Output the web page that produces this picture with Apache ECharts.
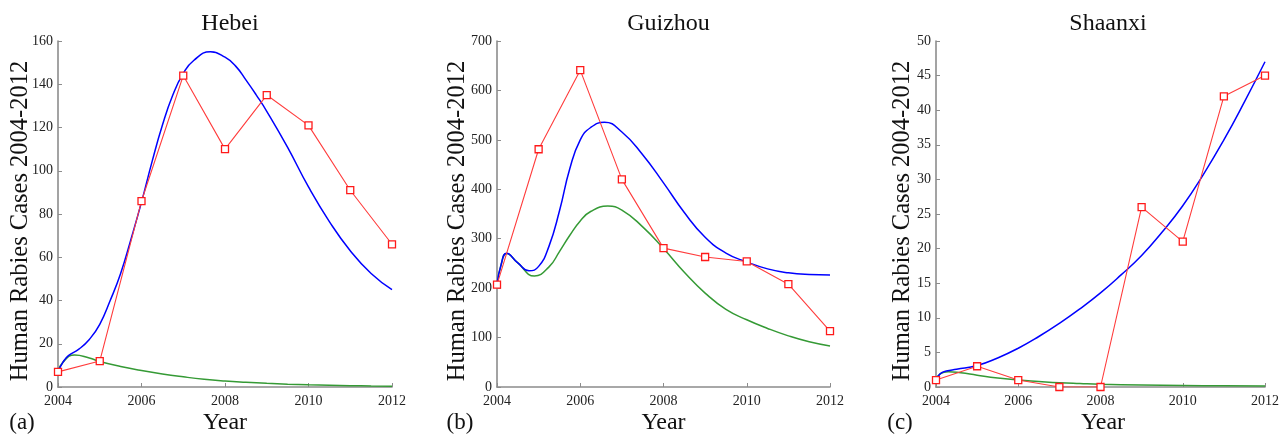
<!DOCTYPE html>
<html>
<head>
<meta charset="utf-8">
<title>Human rabies cases 2004-2012</title>
<script src="https://cdn.jsdelivr.net/npm/echarts@6/dist/echarts.min.js"></script>
<style>
  html, body { margin: 0; padding: 0; background: #ffffff; }
  #chart { width: 1282px; height: 434px; }
</style>
</head>
<body>
<div id="chart"></div>
<script>
// observed yearly cases (red squares)
const years = [2004, 2005, 2006, 2007, 2008, 2009, 2010, 2011, 2012]
const hebeiObs = [7, 12, 86, 144, 110, 135, 121, 91, 66]
const guizhouObs = [207, 481, 641, 420, 281, 263, 254, 208, 113]
const shaanxiObs = [1, 3, 1, 0, 0, 26, 21, 42, 45]

// model curves; sample times include each curve's peaks and dips
const hebeiBlueT = [2004, 2004.12, 2004.25, 2004.5, 2004.75, 2005, 2005.25, 2005.5, 2005.75,
  2006, 2006.25, 2006.5, 2006.75, 2007, 2007.25, 2007.65, 2008, 2008.25, 2008.5, 2008.75,
  2009, 2009.5, 2010, 2010.5, 2011, 2011.5, 2012]
const hebeiBlue = [7, 11.5, 14.5, 17.5, 22, 29, 40, 52.5, 68.5,
  85.5, 104, 121, 135, 145, 151, 155, 152.5, 148.5, 142, 135,
  127.5, 110.8, 92.5, 76.5, 63, 52.5, 45]
const hebeiGreenT = [2004, 2004.12, 2004.4, 2004.75, 2005, 2005.5, 2006, 2006.5, 2007, 2007.5,
  2008, 2008.5, 2009, 2009.5, 2010, 2010.5, 2011, 2011.5, 2012]
const hebeiGreen = [7, 11.5, 14.8, 13.4, 11.8, 9.5, 7.6, 6.0, 4.7, 3.6,
  2.8, 2.2, 1.7, 1.3, 1.0, 0.8, 0.62, 0.5, 0.4]

const guizhouBlueT = [2004, 2004.1, 2004.23, 2004.5, 2004.77, 2005, 2005.25, 2005.5, 2005.75,
  2006, 2006.25, 2006.58, 2007, 2007.5, 2008, 2008.5, 2009, 2009.5, 2010, 2010.5,
  2011, 2011.5, 2012]
const guizhouBlue = [207, 248, 270.5, 251, 235, 244, 285, 356, 442,
  500, 525, 535.5, 516, 470, 413, 353, 303, 271, 253, 239,
  231, 227.5, 226.5]
const guizhouGreenT = [2004, 2004.1, 2004.23, 2004.5, 2004.9, 2005.25, 2005.5, 2005.75,
  2006, 2006.25, 2006.66, 2007, 2007.5, 2008, 2008.5, 2009, 2009.5, 2010, 2010.5,
  2011, 2011.5, 2012]
const guizhouGreen = [207, 248, 270, 251, 224.5, 243, 274, 307,
  336, 355, 366, 358, 324, 280, 232, 190, 157, 136, 118.5,
  103.5, 91.5, 83]

const shaanxiBlueT = [2004, 2004.1, 2004.25, 2004.5, 2005, 2005.5, 2006, 2006.5, 2007, 2007.5,
  2008, 2008.5, 2009, 2009.5, 2010, 2010.5, 2011, 2011.5, 2012]
const shaanxiBlue = [1, 1.9, 2.3, 2.55, 3.1, 4.2, 5.6, 7.3, 9.2, 11.3,
  13.6, 16.2, 19.0, 22.4, 26.2, 30.7, 35.7, 41.2, 47]
const shaanxiGreenT = [2004, 2004.1, 2004.3, 2004.6, 2005, 2005.5, 2006, 2006.5, 2007, 2007.5,
  2008, 2009, 2010, 2011, 2012]
const shaanxiGreen = [1, 1.9, 2.2, 2.05, 1.7, 1.3, 1.0, 0.8, 0.62, 0.5,
  0.4, 0.3, 0.23, 0.17, 0.13]

const panelNames = ['Hebei', 'Guizhou', 'Shaanxi']
const panelLetters = ['(a)', '(b)', '(c)']
const yMax = [160, 700, 50]
const yStep = [20, 100, 5]

const serif = '"Liberation Serif", "DejaVu Serif", serif'

// pixel layout of the three plot boxes
const boxes = [
  { left: 58, width: 334, nameX: 21, letterX: 22 },
  { left: 497, width: 333, nameX: 458, letterX: 460 },
  { left: 936, width: 334, nameX: 903, letterX: 900 }
]
const boxTop = 41
const boxHeight = 346

const pairs = (xs, ys) => xs.map((x, i) => [x, ys[i]])

const chart = echarts.init(document.getElementById('chart'))

const grids = boxes.map(b => ({ left: b.left, top: boxTop, width: b.width, height: boxHeight }))

const xAxes = boxes.map((b, i) => ({
  type: 'value',
  gridIndex: i,
  min: 2004,
  max: 2012,
  interval: 2,
  axisLine: { onZero: false, lineStyle: { color: '#8c8c8c', width: 1.6 } },
  axisTick: { inside: true, length: 4, lineStyle: { color: '#8c8c8c' } },
  axisLabel: { color: '#222', fontFamily: serif, fontSize: 14, margin: 7, formatter: v => String(v) },
  splitLine: { show: false }
}))

const yAxes = boxes.map((b, i) => ({
  type: 'value',
  gridIndex: i,
  min: 0,
  max: yMax[i],
  interval: yStep[i],
  axisLine: { show: true, lineStyle: { color: '#8c8c8c', width: 1.6 } },
  axisTick: { show: true, inside: true, length: 4, lineStyle: { color: '#8c8c8c' } },
  axisLabel: { color: '#222', fontFamily: serif, fontSize: 14, margin: 5 },
  splitLine: { show: false }
}))

const observed = [hebeiObs, guizhouObs, shaanxiObs]
const blue = [pairs(hebeiBlueT, hebeiBlue), pairs(guizhouBlueT, guizhouBlue), pairs(shaanxiBlueT, shaanxiBlue)]
const green = [pairs(hebeiGreenT, hebeiGreen), pairs(guizhouGreenT, guizhouGreen), pairs(shaanxiGreenT, shaanxiGreen)]

const series = []
boxes.forEach((b, i) => {
  series.push({
    type: 'line',
    xAxisIndex: i,
    yAxisIndex: i,
    data: green[i],
    smooth: 0.5,
    showSymbol: false,
    lineStyle: { color: '#359a35', width: 1.5 },
    z: 2
  })
  series.push({
    type: 'line',
    xAxisIndex: i,
    yAxisIndex: i,
    data: blue[i],
    smooth: 0.5,
    showSymbol: false,
    lineStyle: { color: '#0000ff', width: 1.5 },
    z: 3
  })
  series.push({
    type: 'line',
    xAxisIndex: i,
    yAxisIndex: i,
    data: pairs(years, observed[i]),
    symbol: 'rect',
    symbolSize: 7,
    lineStyle: { color: '#ff3c3c', width: 1.1 },
    itemStyle: { color: '#ffffff', borderColor: '#ff1a1a', borderWidth: 1.3 },
    z: 4
  })
})

const titles = boxes.map((b, i) => ({
  text: panelNames[i],
  left: b.left + b.width / 2,
  top: 7,
  textAlign: 'center',
  textStyle: { fontFamily: serif, fontSize: 24, fontWeight: 'normal', color: '#111' }
}))

const graphics = []
boxes.forEach((b, i) => {
  graphics.push({
    type: 'text',
    x: b.nameX,
    y: 221,
    rotation: Math.PI / 2,
    style: {
      text: 'Human Rabies Cases 2004-2012',
      font: '24.5px ' + serif,
      fill: '#111',
      textAlign: 'center',
      textVerticalAlign: 'middle'
    }
  })
  graphics.push({
    type: 'text',
    x: b.left + b.width / 2,
    y: 423,
    style: { text: 'Year', font: '24px ' + serif, fill: '#111', textAlign: 'center', textVerticalAlign: 'middle' }
  })
  graphics.push({
    type: 'text',
    x: b.letterX,
    y: 423,
    style: { text: panelLetters[i], font: '23px ' + serif, fill: '#111', textAlign: 'center', textVerticalAlign: 'middle' }
  })
})

chart.setOption({
  animation: false,
  backgroundColor: '#ffffff',
  title: titles,
  grid: grids,
  xAxis: xAxes,
  yAxis: yAxes,
  series: series,
  graphic: graphics
})
</script>
</body>
</html>
